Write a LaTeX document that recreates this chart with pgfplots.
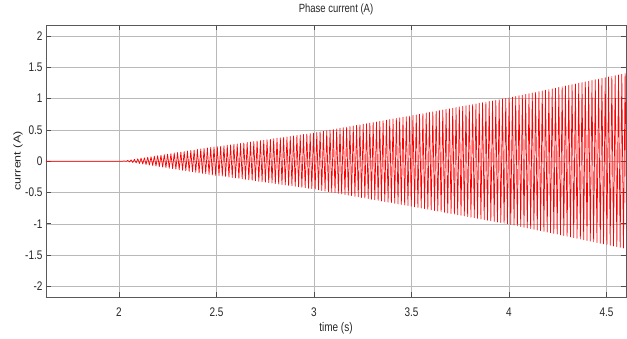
\documentclass[border=0pt]{standalone}
\usepackage{graphicx}
\usepackage{pgfplots}
\pgfplotsset{compat=1.18}
\usepackage{fontspec}
\setmainfont{Liberation Sans}
\begin{document}
\begin{tikzpicture}
\path[use as bounding box] (-46pt,-42pt) rectangle (581pt,297pt);
\begin{axis}[
  at={(0pt,0pt)}, anchor=south west,
  scale only axis, width=580pt, height=272pt,
  xmin=1.626, xmax=4.6, ymin=-2.17, ymax=2.175,
  xtick={2,2.5,3,3.5,4,4.5},
  ytick={-2,-1.5,-1,-0.5,0,0.5,1,1.5,2},
  grid=major,
  major grid style={gray!55, line width=0.5pt},
  axis line style={black!65, line width=0.7pt},
  tick style={black!70, line width=0.6pt},
  tick align=inside, major tick length=5pt,
  /pgf/number format/assume math mode=true,
  xticklabel={\scalebox{1}[1.25]{\pgfmathprintnumber{\tick}}},
  yticklabel={\scalebox{1}[1.25]{\pgfmathprintnumber{\tick}}},
  ticklabel style={font=\fontsize{10}{12}\selectfont, text=black!85},
  xticklabel style={anchor=center, yshift=-15pt},
  title={\scalebox{1}[1.25]{Phase current (A)}},
  title style={at={(axis description cs:0.5,1.037)}, anchor=center, font=\fontsize{9.5}{11}\selectfont, text=black!85},
  xlabel={\scalebox{1}[1.25]{time (s)}},
  xlabel style={at={(axis description cs:0.5,-0.114)}, anchor=center, font=\fontsize{10}{12}\selectfont, text=black!85},
  ylabel={\scalebox{1.25}[1]{current (A)}},
  ylabel style={at={(axis description cs:-0.048,0.5)}, anchor=center, font=\fontsize{10}{12}\selectfont, text=black!85},
]
\addplot[red, line width=0.7pt, line join=round, mark=none] coordinates {
(1.626,0)(2.020,0)
(2.0285,0.004)(2.0370,-0.004)(2.0455,0.012)(2.0540,-0.012)(2.0625,0.021)(2.0710,-0.021)(2.0795,0.029)(2.0880,-0.029)(2.0965,0.037)(2.1050,-0.037)(2.1135,0.046)(2.1220,-0.046)(2.1305,0.054)(2.1390,-0.054)(2.1475,0.062)(2.1560,-0.062)(2.1645,0.070)(2.1730,-0.070)(2.1815,0.079)(2.1900,-0.079)
(2.1985,0.087)(2.2070,-0.087)(2.2155,0.095)(2.2240,-0.095)(2.2325,0.104)(2.2410,-0.104)(2.2495,0.112)(2.2580,-0.112)(2.2665,0.120)(2.2750,-0.120)(2.2835,0.129)(2.2920,-0.129)(2.3005,0.137)(2.3090,-0.137)(2.3175,0.145)(2.3260,-0.145)(2.3345,0.153)(2.3430,-0.153)(2.3515,0.162)(2.3600,-0.162)
(2.3685,0.170)(2.3770,-0.170)(2.3855,0.178)(2.3940,-0.178)(2.4025,0.187)(2.4110,-0.187)(2.4195,0.195)(2.4280,-0.195)(2.4365,0.203)(2.4450,-0.203)(2.4535,0.212)(2.4620,-0.212)(2.4705,0.220)(2.4790,-0.220)(2.4875,0.228)(2.4960,-0.228)(2.5045,0.230)(2.5130,-0.230)(2.5215,0.238)(2.5300,-0.238)
(2.5385,0.245)(2.5470,-0.245)(2.5555,0.253)(2.5640,-0.253)(2.5725,0.260)(2.5810,-0.260)(2.5895,0.268)(2.5980,-0.268)(2.6065,0.275)(2.6150,-0.275)(2.6235,0.283)(2.6320,-0.283)(2.6405,0.290)(2.6490,-0.290)(2.6575,0.298)(2.6660,-0.298)(2.6745,0.305)(2.6830,-0.305)(2.6915,0.313)(2.7000,-0.313)
(2.7085,0.320)(2.7170,-0.320)(2.7255,0.328)(2.7340,-0.328)(2.7425,0.335)(2.7510,-0.335)(2.7595,0.343)(2.7680,-0.343)(2.7765,0.350)(2.7850,-0.350)(2.7935,0.358)(2.8020,-0.358)(2.8105,0.365)(2.8190,-0.365)(2.8275,0.373)(2.8360,-0.373)(2.8445,0.380)(2.8530,-0.380)(2.8615,0.388)(2.8700,-0.388)
(2.8785,0.395)(2.8870,-0.395)(2.8955,0.403)(2.9040,-0.403)(2.9125,0.410)(2.9210,-0.410)(2.9295,0.418)(2.9380,-0.418)(2.9465,0.425)(2.9550,-0.425)(2.9635,0.433)(2.9720,-0.433)(2.9805,0.440)(2.9890,-0.440)(2.9975,0.448)(3.0060,-0.448)(3.0145,0.459)(3.0230,-0.459)(3.0315,0.469)(3.0400,-0.469)
(3.0485,0.478)(3.0570,-0.478)(3.0655,0.487)(3.0740,-0.487)(3.0825,0.497)(3.0910,-0.497)(3.0995,0.506)(3.1080,-0.506)(3.1165,0.515)(3.1250,-0.515)(3.1335,0.524)(3.1420,-0.524)(3.1505,0.534)(3.1590,-0.534)(3.1675,0.543)(3.1760,-0.543)(3.1845,0.552)(3.1930,-0.552)(3.2015,0.562)(3.2100,-0.562)
(3.2185,0.571)(3.2270,-0.571)(3.2355,0.580)(3.2440,-0.580)(3.2525,0.590)(3.2610,-0.590)(3.2695,0.599)(3.2780,-0.599)(3.2865,0.608)(3.2950,-0.608)(3.3035,0.617)(3.3120,-0.617)(3.3205,0.627)(3.3290,-0.627)(3.3375,0.636)(3.3460,-0.636)(3.3545,0.645)(3.3630,-0.645)(3.3715,0.655)(3.3800,-0.655)
(3.3885,0.664)(3.3970,-0.664)(3.4055,0.673)(3.4140,-0.673)(3.4225,0.683)(3.4310,-0.683)(3.4395,0.692)(3.4480,-0.692)(3.4565,0.701)(3.4650,-0.701)(3.4735,0.710)(3.4820,-0.710)(3.4905,0.720)(3.4990,-0.720)(3.5075,0.730)(3.5160,-0.730)(3.5245,0.739)(3.5330,-0.739)(3.5415,0.749)(3.5500,-0.749)
(3.5585,0.759)(3.5670,-0.759)(3.5755,0.769)(3.5840,-0.769)(3.5925,0.778)(3.6010,-0.778)(3.6095,0.788)(3.6180,-0.788)(3.6265,0.798)(3.6350,-0.798)(3.6435,0.807)(3.6520,-0.807)(3.6605,0.817)(3.6690,-0.817)(3.6775,0.827)(3.6860,-0.827)(3.6945,0.836)(3.7030,-0.836)(3.7115,0.846)(3.7200,-0.846)
(3.7285,0.856)(3.7370,-0.856)(3.7455,0.866)(3.7540,-0.866)(3.7625,0.875)(3.7710,-0.875)(3.7795,0.885)(3.7880,-0.885)(3.7965,0.895)(3.8050,-0.895)(3.8135,0.904)(3.8220,-0.904)(3.8305,0.914)(3.8390,-0.914)(3.8475,0.924)(3.8560,-0.924)(3.8645,0.933)(3.8730,-0.933)(3.8815,0.943)(3.8900,-0.943)
(3.8985,0.953)(3.9070,-0.953)(3.9155,0.963)(3.9240,-0.963)(3.9325,0.972)(3.9410,-0.972)(3.9495,0.982)(3.9580,-0.982)(3.9665,0.992)(3.9750,-0.992)(3.9835,1.001)(3.9920,-1.001)(4.0005,1.011)(4.0090,-1.011)(4.0175,1.022)(4.0260,-1.022)(4.0345,1.033)(4.0430,-1.033)(4.0515,1.044)(4.0600,-1.044)
(4.0685,1.055)(4.0770,-1.055)(4.0855,1.067)(4.0940,-1.067)(4.1025,1.078)(4.1110,-1.078)(4.1195,1.089)(4.1280,-1.089)(4.1365,1.100)(4.1450,-1.100)(4.1535,1.111)(4.1620,-1.111)(4.1705,1.122)(4.1790,-1.122)(4.1875,1.133)(4.1960,-1.133)(4.2045,1.144)(4.2130,-1.144)(4.2215,1.155)(4.2300,-1.155)
(4.2385,1.166)(4.2470,-1.166)(4.2555,1.178)(4.2640,-1.178)(4.2725,1.189)(4.2810,-1.189)(4.2895,1.200)(4.2980,-1.200)(4.3065,1.211)(4.3150,-1.211)(4.3235,1.222)(4.3320,-1.222)(4.3405,1.233)(4.3490,-1.233)(4.3575,1.244)(4.3660,-1.244)(4.3745,1.255)(4.3830,-1.255)(4.3915,1.266)(4.4000,-1.266)
(4.4085,1.277)(4.4170,-1.277)(4.4255,1.289)(4.4340,-1.289)(4.4425,1.300)(4.4510,-1.300)(4.4595,1.311)(4.4680,-1.311)(4.4765,1.322)(4.4850,-1.322)(4.4935,1.333)(4.5020,-1.333)(4.5105,1.344)(4.5190,-1.344)(4.5275,1.355)(4.5360,-1.355)(4.5445,1.366)(4.5530,-1.366)(4.5615,1.377)(4.5700,-1.377)
(4.5785,1.388)(4.5870,-1.388)(4.5955,1.400)(4.6040,-1.400)
};
\end{axis}
\end{tikzpicture}
\end{document}
